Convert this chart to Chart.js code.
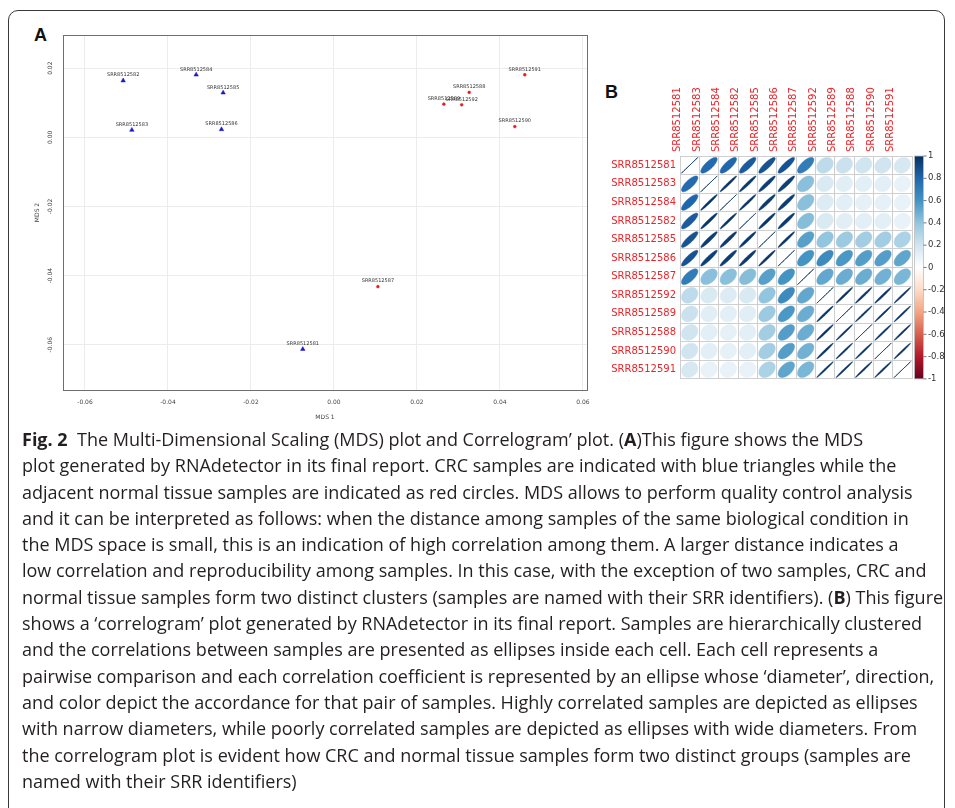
<!DOCTYPE html>
<html>
<head>
<meta charset="utf-8">
<script src="https://cdn.jsdelivr.net/npm/chart.js@4.4.1/dist/chart.umd.min.js"></script>
<style>
  html,body{margin:0;padding:0;background:#fff;}
  body{width:955px;height:808px;overflow:hidden;position:relative;}
  #frame{position:absolute;left:8px;top:10px;width:937px;height:810px;border:1px solid #3a3a3a;border-radius:10px;box-sizing:border-box;}
  .letter{position:absolute;font:bold 18px "Liberation Sans",Arial,sans-serif;color:#111;}
  #boxA{position:absolute;left:20px;top:25px;width:580px;height:405px;}
  #boxB{position:absolute;left:600px;top:80px;width:355px;height:320px;}
  #caption{position:absolute;left:22px;top:426px;font-family:"Open Sans","Noto Sans",sans-serif;font-size:18px;line-height:26.3px;color:#231f20;white-space:nowrap;}
  #caption b{font-weight:700;}
</style>
</head>
<body>
<div id="frame"></div>
<div class="letter" style="left:34px;top:25px;">A</div>
<div class="letter" style="left:605px;top:82px;">B</div>
<div id="boxA"><canvas id="mds"></canvas></div>
<div id="boxB"><canvas id="corr"></canvas></div>
<div id="caption">
<b>Fig. 2</b>&nbsp; The Multi-Dimensional Scaling (MDS) plot and Correlogram’ plot. (<b>A</b>)This figure shows the MDS<br>
plot generated by RNAdetector in its final report. CRC samples are indicated with blue triangles while the<br>
adjacent normal tissue samples are indicated as red circles. MDS allows to perform quality control analysis<br>
and it can be interpreted as follows: when the distance among samples of the same biological condition in<br>
the MDS space is small, this is an indication of high correlation among them. A larger distance indicates a<br>
low correlation and reproducibility among samples. In this case, with the exception of two samples, CRC and<br>
normal tissue samples form two distinct clusters (samples are named with their SRR identifiers). (<b>B</b>) This figure<br>
shows a ‘correlogram’ plot generated by RNAdetector in its final report. Samples are hierarchically clustered<br>
and the correlations between samples are presented as ellipses inside each cell. Each cell represents a<br>
pairwise comparison and each correlation coefficient is represented by an ellipse whose ‘diameter’, direction,<br>
and color depict the accordance for that pair of samples. Highly correlated samples are depicted as ellipses<br>
with narrow diameters, while poorly correlated samples are depicted as ellipses with wide diameters. From<br>
the correlogram plot is evident how CRC and normal tissue samples form two distinct groups (samples are<br>
named with their SRR identifiers)
</div>
<script>
// ---------------- Panel A data (MDS) ----------------
const crcNames = ['SRR8512582','SRR8512584','SRR8512585','SRR8512583','SRR8512586','SRR8512581'];
const crcX = [-0.0508,-0.0332,-0.0267,-0.0487,-0.0271,-0.0075];
const crcY = [0.0164,0.0181,0.0129,0.0021,0.0023,-0.0613];
const normalNames = ['SRR8512591','SRR8512588','SRR8512589','SRR8512592','SRR8512590','SRR8512587'];
const normalX = [0.0460,0.0326,0.0265,0.0308,0.0436,0.0106];
const normalY = [0.0181,0.0130,0.0096,0.0094,0.0031,-0.0432];
const mdsXTicks = [-0.06,-0.04,-0.02,0.00,0.02,0.04,0.06];
const mdsYTicks = [-0.06,-0.04,-0.02,0.00,0.02];

// ---------------- Panel B data (correlogram) ----------------
const sampleOrder = ['SRR8512581','SRR8512583','SRR8512584','SRR8512582','SRR8512585','SRR8512586','SRR8512587','SRR8512592','SRR8512589','SRR8512588','SRR8512590','SRR8512591'];
const r581 = [1.00,0.78,0.80,0.84,0.87,0.87,0.70,0.26,0.22,0.20,0.20,0.18];
const r583 = [0.78,1.00,0.98,0.97,0.95,0.94,0.42,0.16,0.13,0.12,0.12,0.10];
const r584 = [0.80,0.98,1.00,0.98,0.96,0.95,0.42,0.15,0.12,0.11,0.11,0.10];
const r582 = [0.84,0.97,0.98,1.00,0.97,0.96,0.43,0.16,0.13,0.12,0.12,0.10];
const r585 = [0.87,0.95,0.96,0.97,1.00,0.98,0.55,0.40,0.37,0.35,0.35,0.32];
const r586 = [0.87,0.94,0.95,0.96,0.98,1.00,0.60,0.64,0.58,0.56,0.56,0.53];
const r587 = [0.70,0.42,0.42,0.43,0.55,0.60,1.00,0.52,0.50,0.50,0.48,0.46];
const r592 = [0.26,0.16,0.15,0.16,0.40,0.64,0.52,1.00,0.985,0.985,0.985,0.99];
const r589 = [0.22,0.13,0.12,0.13,0.37,0.58,0.50,0.985,1.00,0.99,0.99,0.99];
const r588 = [0.20,0.12,0.11,0.12,0.35,0.56,0.50,0.985,0.99,1.00,0.99,0.99];
const r590 = [0.20,0.12,0.11,0.12,0.35,0.56,0.48,0.985,0.99,0.99,1.00,0.99];
const r591 = [0.18,0.10,0.10,0.10,0.32,0.53,0.46,0.99,0.99,0.99,0.99,1.00];
const corrRows = [r581,r583,r584,r582,r585,r586,r587,r592,r589,r588,r590,r591];
const colorbarTicks = [1,0.8,0.6,0.4,0.2,0,-0.2,-0.4,-0.6,-0.8,-1];

// RdBu palette used by corrplot
const rdbu = ['#67001F','#B2182B','#D6604D','#F4A582','#FDDBC7','#FFFFFF','#D1E5F0','#92C5DE','#4393C3','#2166AC','#053061'];
function hexToRgb(h){return [parseInt(h.slice(1,3),16),parseInt(h.slice(3,5),16),parseInt(h.slice(5,7),16)];}
function corrColor(r){
  const p=(Math.max(-1,Math.min(1,r))+1)/2*10;
  const i=Math.min(9,Math.floor(p)); const f=p-i;
  const a=hexToRgb(rdbu[i]), b=hexToRgb(rdbu[i+1]);
  const c=a.map((v,k)=>Math.round(v+(b[k]-v)*f));
  return 'rgb('+c.join(',')+')';
}

// ---------------- Panel A chart ----------------
const labelPlugin = {
  id:'mdsLabels',
  afterDatasetsDraw(chart){
    const ctx=chart.ctx;
    ctx.save();
    ctx.font='5px "DejaVu Sans"';
    ctx.fillStyle='#333';
    ctx.textAlign='center';
    ctx.textBaseline='middle';
    chart.data.datasets.forEach((ds,di)=>{
      const meta=chart.getDatasetMeta(di);
      meta.data.forEach((pt,i)=>{ ctx.fillText(ds.names[i], pt.x, pt.y-5.5); });
    });
    ctx.restore();
  },
  afterDraw(chart){
    const a=chart.chartArea, ctx=chart.ctx;
    ctx.save();
    ctx.strokeStyle='#6e6e6e'; ctx.lineWidth=1;
    ctx.strokeRect(Math.round(a.left)+0.5,Math.round(a.top)+0.5,Math.round(a.right-a.left),Math.round(a.bottom-a.top));
    ctx.restore();
  }
};

new Chart(document.getElementById('mds'),{
  type:'scatter',
  data:{datasets:[
    {label:'CRC',names:crcNames,data:crcX.map((x,i)=>({x:x,y:crcY[i]})),pointStyle:'triangle',pointRadius:2.6,backgroundColor:'#1a1acc',borderColor:'#1a1acc',borderWidth:0.5},
    {label:'Normal',names:normalNames,data:normalX.map((x,i)=>({x:x,y:normalY[i]})),pointStyle:'circle',pointRadius:1.4,backgroundColor:'#e41a1c',borderColor:'#e41a1c',borderWidth:0.5}
  ]},
  options:{
    responsive:true,maintainAspectRatio:false,animation:false,devicePixelRatio:1,
    layout:{padding:{left:0,right:13,top:10,bottom:0}},
    plugins:{legend:{display:false},tooltip:{enabled:false}},
    scales:{
      x:{type:'linear',min:-0.0653,max:0.061,
        afterBuildTicks(s){s.ticks=mdsXTicks.map(v=>({value:v}));},
        afterFit(s){s.height=40;},
        grid:{color:'#ececec',drawTicks:false},border:{display:false},
        ticks:{font:{family:'DejaVu Sans',size:6},color:'#444',padding:9,callback:v=>v.toFixed(2)},
        title:{display:true,text:'MDS 1',font:{family:'DejaVu Sans',size:6},color:'#444',padding:{top:0,bottom:9}}
      },
      y:{type:'linear',min:-0.0731,max:0.0296,
        afterBuildTicks(s){s.ticks=mdsYTicks.map(v=>({value:v}));},
        afterFit(s){s.width=43;},
        grid:{color:'#ececec',drawTicks:false},border:{display:false},
        ticks:{font:{family:'DejaVu Sans',size:6},color:'#444',padding:5,minRotation:90,maxRotation:90,crossAlign:'center',callback:v=>v.toFixed(2)},
        title:{display:true,text:'MDS 2',font:{family:'DejaVu Sans',size:6},color:'#444',padding:{top:14,bottom:0}}
      }
    }
  },
  plugins:[labelPlugin]
});

// ---------------- Panel B chart ----------------
const cells=[];
corrRows.forEach((row,ri)=>row.forEach((v,ci)=>cells.push({x:sampleOrder[ci],y:sampleOrder[ri],v:v})));

const ellipsePlugin = {
  id:'ellipses',
  afterDatasetsDraw(chart){
    const ctx=chart.ctx, xs=chart.scales.x, ys=chart.scales.y;
    const cw=Math.abs(xs.getPixelForValue(1)-xs.getPixelForValue(0));
    const ch=Math.abs(ys.getPixelForValue(1)-ys.getPixelForValue(0));
    const ds=chart.data.datasets[0];
    const meta=chart.getDatasetMeta(0);
    const s=0.425;
    ctx.save();
    meta.data.forEach((pt,i)=>{
      const r=ds.data[i].v;
      const d=Math.acos(Math.max(-1,Math.min(1,r)))/2;
      ctx.beginPath();
      for(let k=0;k<=120;k++){
        const t=2*Math.PI*k/120;
        const ex=Math.cos(t+d)*s*cw, ey=Math.cos(t-d)*s*ch;
        if(k===0) ctx.moveTo(pt.x+ex,pt.y-ey); else ctx.lineTo(pt.x+ex,pt.y-ey);
      }
      ctx.closePath();
      const col=corrColor(r);
      ctx.fillStyle=col; ctx.fill();
      ctx.strokeStyle=col; ctx.lineWidth=r>=0.999?0.8:0.5; ctx.stroke();
    });
    // colour bar
    const y2=chart.scales.y2, a=chart.chartArea;
    const x0=a.right+2.5, w=9;
    const top=y2.getPixelForValue(1), bot=y2.getPixelForValue(-1);
    const g=ctx.createLinearGradient(0,top,0,bot);
    rdbu.slice().reverse().forEach((c,i)=>g.addColorStop(i/10,c));
    ctx.fillStyle=g; ctx.fillRect(x0,top,w,bot-top);
    ctx.strokeStyle='#bdbdbd'; ctx.lineWidth=0.8; ctx.strokeRect(x0,top,w,bot-top);
    ctx.strokeStyle='#555'; ctx.lineWidth=0.8;
    colorbarTicks.forEach(v=>{const yy=y2.getPixelForValue(v); ctx.beginPath(); ctx.moveTo(x0+w,yy); ctx.lineTo(x0+w+3,yy); ctx.stroke();});
    ctx.restore();
  }
};

new Chart(document.getElementById('corr'),{
  type:'scatter',
  data:{datasets:[{data:cells,pointRadius:0,pointHoverRadius:0,backgroundColor:'transparent'}]},
  options:{
    responsive:true,maintainAspectRatio:false,animation:false,devicePixelRatio:1,
    layout:{padding:{left:0,right:0,top:0,bottom:11}},
    plugins:{legend:{display:false},tooltip:{enabled:false}},
    scales:{
      x:{type:'category',labels:sampleOrder,position:'top',offset:true,
        afterFit(s){s.height=76;},
        grid:{offset:true,color:'#cfcfcf',drawTicks:false,lineWidth:1},border:{display:true,color:'#cfcfcf'},
        ticks:{autoSkip:false,minRotation:90,maxRotation:90,padding:4,color:'#e8262b',font:{family:'DejaVu Sans',size:10}}
      },
      y:{type:'category',labels:sampleOrder,position:'left',offset:true,
        afterFit(s){s.width=80;},
        grid:{offset:true,color:'#cfcfcf',drawTicks:false,lineWidth:1},border:{display:true,color:'#cfcfcf'},
        ticks:{autoSkip:false,padding:4,color:'#e8262b',font:{family:'DejaVu Sans',size:10}}
      },
      y2:{type:'linear',position:'right',min:-1,max:1,
        afterBuildTicks(s){s.ticks=colorbarTicks.map(v=>({value:v}));},
        afterFit(s){s.width=43;},
        grid:{display:false,drawTicks:false},border:{display:false},
        ticks:{padding:16,color:'#333',font:{family:'DejaVu Sans',size:8.5},callback:v=>String(Math.round(v*10)/10)}
      }
    }
  },
  plugins:[ellipsePlugin]
});
</script>
</body>
</html>
